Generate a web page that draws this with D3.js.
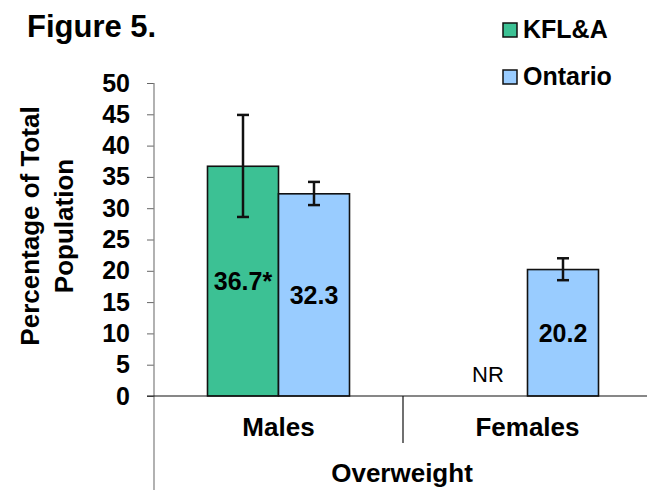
<!DOCTYPE html>
<html>
<head>
<meta charset="utf-8">
<script src="https://cdn.jsdelivr.net/npm/d3@7"></script>
<style>
  body { margin: 0; background: #fff; }
  text { font-family: "Liberation Sans", Arial, sans-serif; }
</style>
</head>
<body>
<div id="chart"></div>
<script>
// data
let categories = ['Males', 'Females'];
let seriesNames = ['KFL&A', 'Ontario'];
let kflValues = [36.7, null];
let kflLow = [28.6, null];
let kflHigh = [44.9, null];
let kflLabels = ['36.7*', 'NR'];
let ontValues = [32.3, 20.2];
let ontLow = [30.5, 18.5];
let ontHigh = [34.2, 22.0];
let ontLabels = ['32.3', '20.2'];
let yTicks = [0, 5, 10, 15, 20, 25, 30, 35, 40, 45, 50];
let groupTitle = 'Overweight';

let width = 647,
	height = 490;
let colors = ['#3cc194', '#99ccff'];

let svg = d3.select('#chart').append('svg').attr('width', width).attr('height', height);

let x = d3.scaleBand().domain(categories).range([154, 652]).padding(0);
let y = d3.scaleLinear().domain([0, 50]).range([396, 83]);
let barW = 71;

// title
svg.append('text').attr('x', 27).attr('y', 37).text('Figure 5.')
	.style('font-size', '31px').style('font-weight', 'bold');

// y axis
let yAxis = svg.append('g').attr('transform', 'translate(154,0)')
	.call(d3.axisLeft(y).tickValues(yTicks).tickSize(7).tickPadding(17));
yAxis.select('.domain').remove();
yAxis.selectAll('.tick line').attr('stroke', '#666');
yAxis.selectAll('text').style('font-size', '25px').style('font-weight', 'bold')
	.attr('fill', '#000').attr('font-family', 'Liberation Sans, Arial, sans-serif');
svg.append('line').attr('x1', 154).attr('x2', 154).attr('y1', y(50)).attr('y2', height)
	.attr('stroke', '#888').attr('stroke-width', 1.3);

// y label
svg.append('text').attr('transform', 'translate(39,226) rotate(-90)')
	.attr('text-anchor', 'middle').text('Percentage of Total')
	.style('font-size', '26px').style('font-weight', 'bold');
svg.append('text').attr('transform', 'translate(73,226) rotate(-90)')
	.attr('text-anchor', 'middle').text('Population')
	.style('font-size', '26px').style('font-weight', 'bold');

// bars
let bars = [];
categories.forEach(function (c, i) {
	bars.push({ cat: c, s: 0, v: kflValues[i], lo: kflLow[i], hi: kflHigh[i], label: kflLabels[i] });
	bars.push({ cat: c, s: 1, v: ontValues[i], lo: ontLow[i], hi: ontHigh[i], label: ontLabels[i] });
});
let cx = function (d) {
	return x(d.cat) + x.bandwidth() / 2 + (d.s === 0 ? -barW : 0);
};
let shown = bars.filter(function (d) { return d.v != null; });

svg.selectAll('rect.bar')
	.data(shown)
	.enter()
	.append('rect')
	.attr('class', 'bar')
	.attr('x', cx)
	.attr('y', function (d) { return y(d.v); })
	.attr('width', barW)
	.attr('height', function (d) { return y(0) - y(d.v); })
	.attr('fill', function (d) { return colors[d.s]; })
	.attr('stroke', '#111')
	.attr('stroke-width', 1.6);

// x axis line
svg.append('line').attr('x1', 147).attr('x2', width).attr('y1', y(0)).attr('y2', y(0))
	.attr('stroke', '#111').attr('stroke-width', 1.2);
svg.append('line').attr('x1', x('Females')).attr('x2', x('Females')).attr('y1', y(0)).attr('y2', 443)
	.attr('stroke', '#111').attr('stroke-width', 1.2);

// error bars
let eb = svg.selectAll('g.err')
	.data(shown)
	.enter()
	.append('g')
	.attr('class', 'err');
eb.append('line')
	.attr('x1', function (d) { return cx(d) + barW / 2; })
	.attr('x2', function (d) { return cx(d) + barW / 2; })
	.attr('y1', function (d) { return y(d.hi); })
	.attr('y2', function (d) { return y(d.lo); })
	.attr('stroke', '#111').attr('stroke-width', 2.5);
['hi', 'lo'].forEach(function (k) {
	eb.append('line')
		.attr('x1', function (d) { return cx(d) + barW / 2 - 6; })
		.attr('x2', function (d) { return cx(d) + barW / 2 + 6; })
		.attr('y1', function (d) { return y(d[k]); })
		.attr('y2', function (d) { return y(d[k]); })
		.attr('stroke', '#111').attr('stroke-width', 2.5);
});

// value labels
svg.selectAll('text.val')
	.data(shown)
	.enter()
	.append('text')
	.attr('class', 'val')
	.attr('x', function (d) { return cx(d) + barW / 2; })
	.attr('y', function (d) { return y(d.v / 2) + 9; })
	.attr('text-anchor', 'middle')
	.text(function (d) { return d.label; })
	.style('font-size', '25px').style('font-weight', 'bold');

// NR label
bars.filter(function (d) { return d.v == null; }).forEach(function (d) {
	svg.append('text').attr('x', cx(d) + barW / 2 - 4).attr('y', 382)
		.attr('text-anchor', 'middle').text(d.label).style('font-size', '22px');
});

// category labels
svg.selectAll('text.cat')
	.data(categories)
	.enter()
	.append('text')
	.attr('x', function (d) { return x(d) + x.bandwidth() / 2; })
	.attr('y', 436)
	.attr('text-anchor', 'middle')
	.text(function (d) { return d; })
	.style('font-size', '26px').style('font-weight', 'bold');

svg.append('text').attr('x', 402).attr('y', 482).attr('text-anchor', 'middle')
	.text(groupTitle).style('font-size', '26px').style('font-weight', 'bold');

// legend
seriesNames.forEach(function (n, i) {
	let ly = 23 + i * 47;
	svg.append('rect').attr('x', 503).attr('y', ly).attr('width', 14).attr('height', 14)
		.attr('fill', colors[i]).attr('stroke', '#111').attr('stroke-width', 1.5);
	svg.append('text').attr('x', 523).attr('y', ly + 15).text(n)
		.style('font-size', '25px').style('font-weight', 'bold');
});
</script>
</body>
</html>
